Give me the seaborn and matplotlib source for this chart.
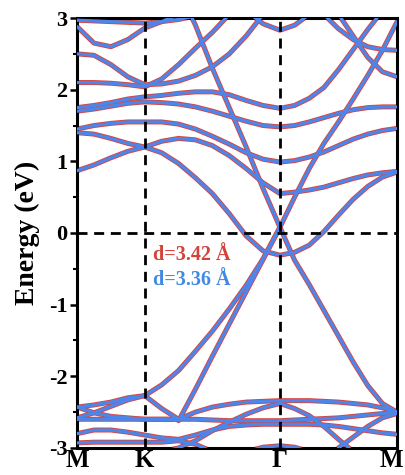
import numpy as np
import pandas as pd
import matplotlib
matplotlib.use("Agg")
import matplotlib.pyplot as plt
from matplotlib.ticker import MultipleLocator
from matplotlib.transforms import ScaledTranslation
import seaborn as sns

# High-symmetry path M-K-Γ-M of the hexagonal Brillouin zone
node_labels = ["M", "K", "Γ", "M"]
node_pos = [0.0, 1 / 3, 1.0, 1.0 + 1 / np.sqrt(3)]
seg_steps = [4, 8, 8]

# Band energies (eV) sampled along the path:
# columns 0-4 M->K, 4-12 K->Γ, 12-20 Γ->M ; None = outside the window
N = None
bands = {
    # conduction manifold
    "c_top":   [2.97, 2.96, 2.95, 2.94, 2.93, 2.95, 2.98, 3.03, 3.10, N, N, N, N, N, N, N, N, N, N, N, N],
    "c_loop":  [2.88, 2.65, 2.60, 2.70, 2.86, 2.95, 3.05, 3.15, N, N, N, N, N, N, N, N, N, N, N, N, N],
    "c_dip":   [2.50, 2.48, 2.35, 2.18, 2.07, 2.08, 2.12, 2.20, 2.32, 2.50, 2.75, 3.05, N, N, N, N, N, N, N, N, N],
    "c_up":    [2.10, 2.10, 2.09, 2.07, 2.04, 2.15, 2.35, 2.58, 2.80, 3.05, N, N, N, N, N, N, N, N, N, N, N],
    "c_u1":    [N, N, N, N, N, N, N, N, N, N, 3.10, 2.92, 2.83, 2.90, 3.05, N, N, N, N, N, N],
    "c_u2":    [1.75, 1.78, 1.82, 1.87, 1.90, 1.92, 1.95, 1.97, 1.97, 1.93, 1.85, 1.78, 1.74, 1.78, 1.88, 2.03, 2.28, 2.56, 2.84, 3.10, N],
    "c_u3":    [1.70, 1.73, 1.77, 1.81, 1.83, 1.82, 1.80, 1.76, 1.70, 1.63, 1.56, 1.50, 1.48, 1.50, 1.55, 1.61, 1.67, 1.72, 1.75, 1.76, 1.76],
    "c_u4":    [1.45, 1.50, 1.53, 1.55, 1.55, 1.55, 1.52, 1.45, 1.35, 1.24, 1.12, 1.03, 0.99, 1.01, 1.06, 1.13, 1.22, 1.31, 1.38, 1.43, 1.46],
    "c_u5":    [1.40, 1.38, 1.32, 1.25, 1.20, 1.28, 1.32, 1.30, 1.22, 1.08, 0.90, 0.70, 0.55, 0.57, 0.60, 0.64, 0.70, 0.76, 0.81, 0.84, 0.86],
    "c_low":   [0.87, 0.95, 1.05, 1.14, 1.20, 1.12, 0.97, 0.77, 0.55, 0.27, -0.04, -0.25, -0.31, -0.27, -0.17, 0.02, 0.25, 0.47, 0.65, 0.78, 0.85],
    "c_m218":  [N, N, N, N, N, N, N, N, N, N, N, N, N, N, N, N, 3.05, 2.75, 2.45, 2.25, 2.18],
    "c_m255":  [N, N, N, N, N, N, N, N, N, N, N, N, N, N, N, 3.05, 2.85, 2.70, 2.60, 2.56, 2.55],
    # cone through Γ
    "dirac_ul": [N, N, N, N, N, N, 3.40, 2.90, 2.30, 1.75, 1.20, 0.62, 0.08, N, N, N, N, N, N, N, N],
    "dirac_ur": [N, N, N, N, N, N, N, N, N, N, N, N, 0.08, 0.50, 0.90, 1.25, 1.55, 1.87, 2.20, 2.55, 2.95],
    "dirac_ll": [N, N, N, N, -2.27, -2.12, -1.92, -1.65, -1.37, -1.06, -0.73, -0.36, 0.08, N, N, N, N, N, N, N, N],
    "dirac_l2": [N, N, N, N, N, N, -2.62, -2.18, -1.72, -1.27, -0.82, -0.37, 0.08, N, N, N, N, N, N, N, N],
    "dirac_lr": [N, N, N, N, N, N, N, N, N, N, N, N, 0.08, -0.38, -0.72, -1.08, -1.44, -1.80, -2.13, -2.38, -2.50],
    # valence manifold
    "v_kmax":  [-2.58, -2.51, -2.42, -2.33, -2.27, N, N, N, N, N, N, N, N, N, N, N, N, N, N, N, N],
    "v_k2":    [-2.43, -2.40, -2.36, -2.30, -2.27, -2.45, -2.60, -2.50, -2.43, -2.39, -2.36, -2.35, -2.34, -2.34, -2.34, -2.35, -2.36, -2.38, -2.40, -2.44, -2.50],
    "v_cross": [-2.43, -2.51, -2.56, -2.58, -2.60, -2.60, -2.60, N, N, N, N, N, N, N, N, N, N, N, N, N, N],
    "v_flat":  [-2.60, -2.60, -2.60, -2.60, -2.60, -2.60, -2.60, -2.60, -2.61, -2.62, -2.62, -2.62, -2.62, -2.61, -2.60, -2.59, -2.58, -2.56, -2.54, -2.52, -2.50],
    "v_cap":   [N, N, N, N, N, -3.05, -3.00, -2.90, -2.76, -2.64, -2.53, -2.44, -2.38, -2.45, -2.55, -2.70, -2.88, -3.05, N, N, N],
    "v_rise":  [N, N, N, N, N, N, N, N, N, N, N, N, N, N, N, N, -3.00, -2.85, -2.70, -2.58, -2.52],
    "v_low1":  [-2.80, -2.75, -2.75, -2.78, -2.82, -2.86, -2.88, -2.82, -2.75, -2.70, -2.68, -2.67, -2.67, -2.67, -2.67, -2.68, -2.70, -2.73, -2.76, -2.79, -2.81],
    "v_low2":  [-2.93, -2.92, -2.92, -2.92, -2.92, -2.92, -2.90, -2.95, -3.05, N, N, N, N, N, N, N, N, N, N, N, N],
    "v_bump":  [N, N, N, N, N, N, N, N, N, N, -3.05, -2.99, -2.97, -2.99, -3.05, N, N, N, N, N, N],
}

series = ["d=3.42 Å", "d=3.36 Å"]
series_colors = ["#d8453f", "#4d86ea"]
text_colors = ["#d2433a", "#3f8ae2"]

# k grid along the path
k_grid = [node_pos[0]]
for a, b, n in zip(node_pos[:-1], node_pos[1:], seg_steps):
    k_grid.extend(np.linspace(a, b, n + 1)[1:])
k_grid = np.array(k_grid)

rows = []
for name, vals in bands.items():
    for k, e in zip(k_grid, vals):
        if e is not None:
            rows.append({"band": name, "k": k, "E": e})
df = pd.DataFrame(rows)

sns.set_style("ticks")
plt.rcParams["font.family"] = ["Liberation Serif", "DejaVu Serif"]
plt.rcParams["font.weight"] = "bold"
plt.rcParams["text.color"] = "black"
plt.rcParams["axes.labelcolor"] = "black"
plt.rcParams["xtick.color"] = "black"
plt.rcParams["ytick.color"] = "black"

fig = plt.figure(figsize=(4.06, 4.75), dpi=100)
ax = fig.add_axes([0.19, 0.057, 0.788, 0.905])

# wider red set underneath, blue set on top
sns.lineplot(data=df, x="k", y="E", units="band", estimator=None, sort=False,
             color=series_colors[0], lw=3.6, legend=False, ax=ax, zorder=2)
sns.lineplot(data=df, x="k", y="E", units="band", estimator=None, sort=False,
             color=series_colors[1], lw=2.3, legend=False, ax=ax, zorder=3)

dash = dict(color="black", lw=2.0, dashes=(3.6, 2.4), zorder=5)
for x in node_pos[1:-1]:
    ax.axvline(x, **dash)
ax.axhline(0, **dash)

ax.set_xlim(node_pos[0], node_pos[-1])
ax.set_ylim(-3, 3)
ax.set_xticks(node_pos)
ax.set_xticklabels(node_labels, fontsize=18, fontweight="bold")
ax.tick_params(axis="x", length=0, pad=1)
# keep the last path label inside the canvas
last = ax.get_xticklabels()[-1]
last.set_transform(last.get_transform() + ScaledTranslation(-6 / 100, 0, fig.dpi_scale_trans))

ax.set_yticks(range(-3, 4))
ax.set_yticklabels([str(v) for v in range(-3, 4)], fontsize=16, fontweight="bold")
ax.yaxis.set_minor_locator(MultipleLocator(0.5))
ax.tick_params(axis="y", which="major", direction="out", length=5, width=1.8, pad=2)
ax.tick_params(axis="y", which="minor", direction="out", length=3, width=1.5)
ax.set_xlabel("")
ax.set_ylabel("Energy (eV)", fontsize=20, fontweight="bold", labelpad=6)
for sp in ax.spines.values():
    sp.set_linewidth(2.2)
    sp.set_color("black")

ax.text(0.372, -0.31, series[0], color=text_colors[0], fontsize=14.5,
        fontweight="bold", va="center", ha="left", zorder=6)
ax.text(0.372, -0.66, series[1], color=text_colors[1], fontsize=14.5,
        fontweight="bold", va="center", ha="left", zorder=6)

fig.savefig("out.png", dpi=100)
